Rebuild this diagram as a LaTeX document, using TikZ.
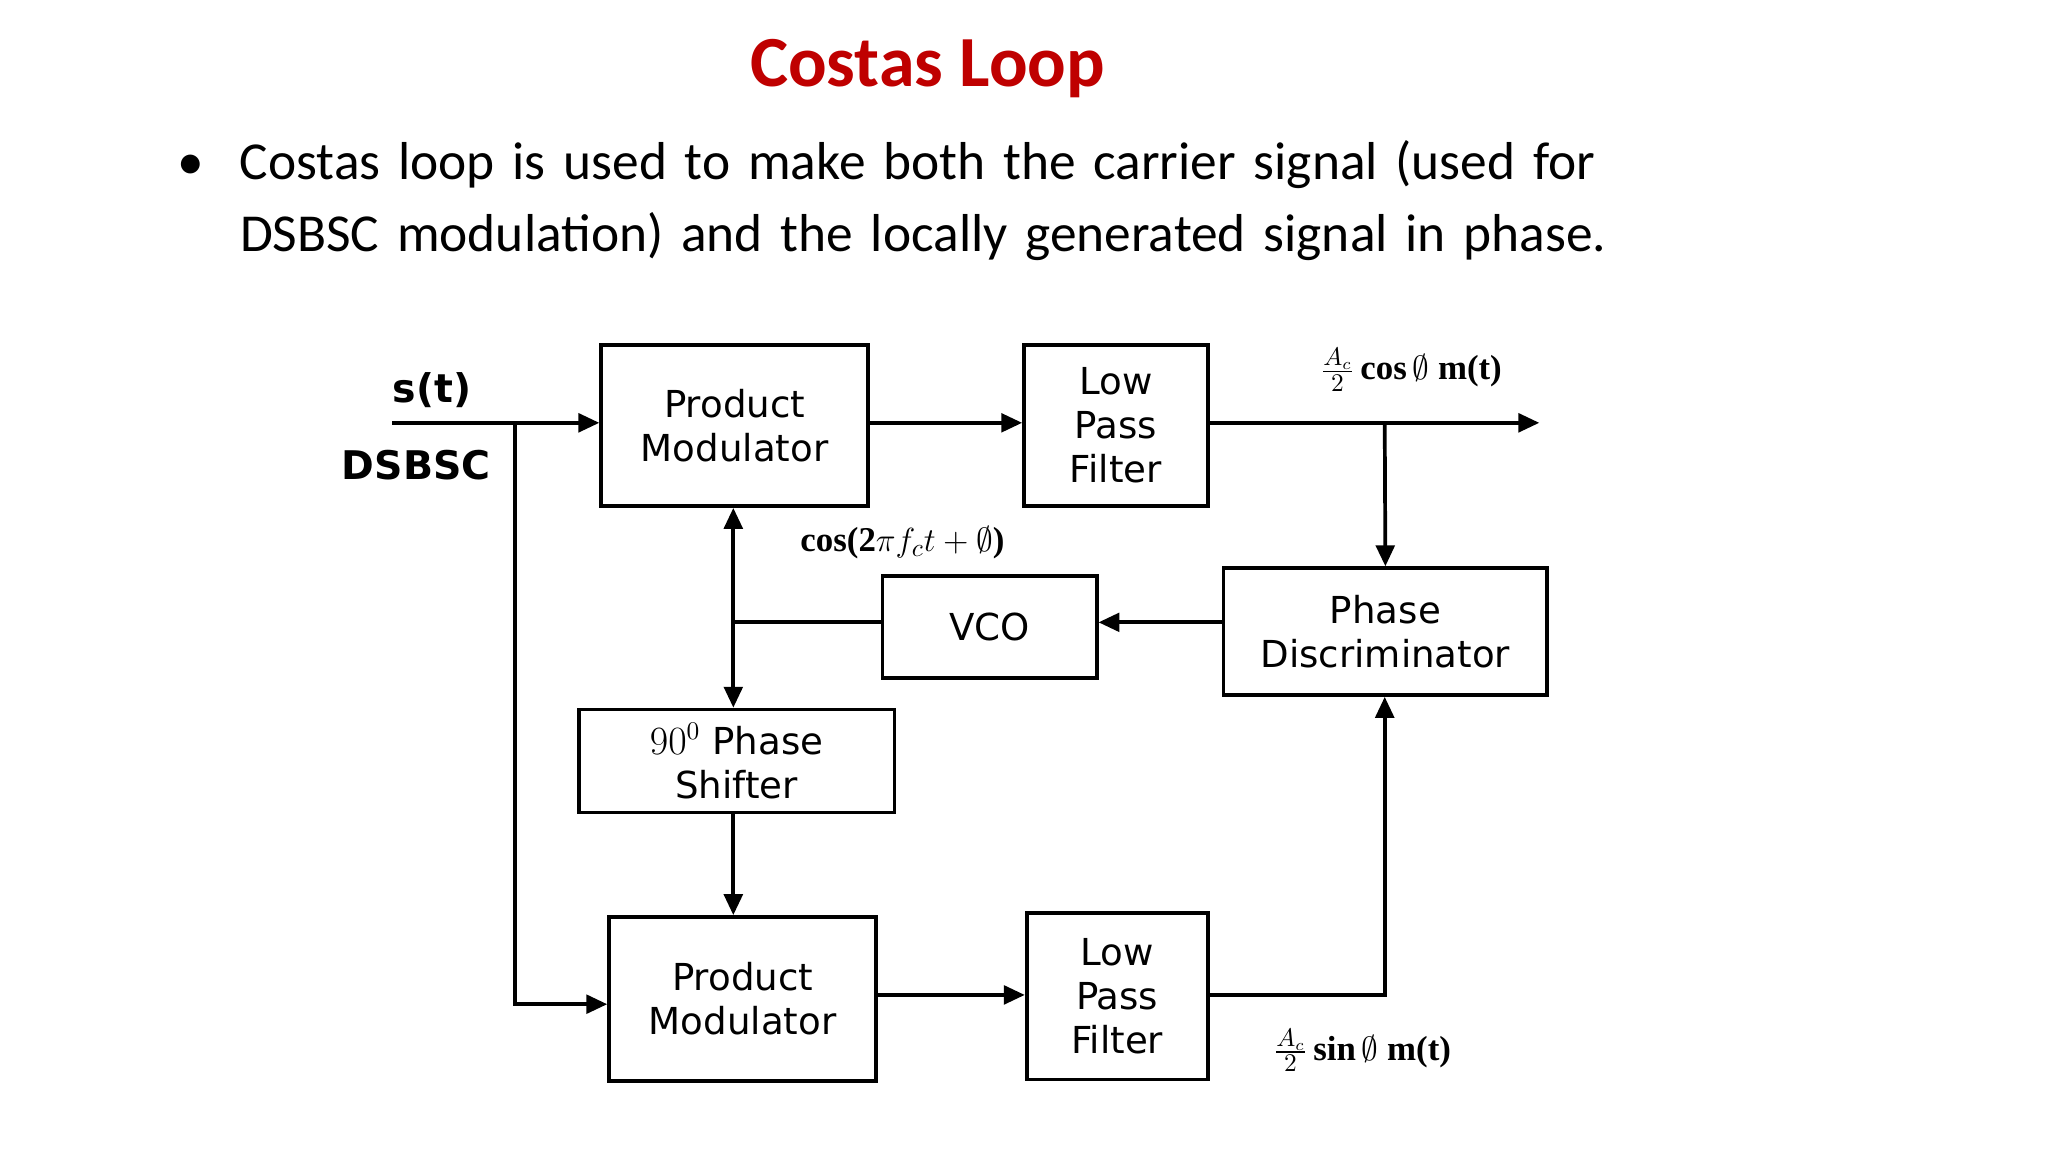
\documentclass[tikz,border=0pt]{standalone}
\usepackage{amsmath}
\usepackage{fontspec}
\setmainfont{Carlito}
\newfontfamily\boxf{DejaVu Sans}
\newfontfamily\serf{Liberation Serif}
\usetikzlibrary{arrows.meta}
\newcommand{\coslab}{cos(2$\pi f_c t+\emptyset$)}
\newcommand{\toplab}{$\frac{A_c}{2}$\,cos\,$\emptyset$ m(t)}
\newcommand{\botlab}{$\frac{A_c}{2}$\,sin\,$\emptyset$ m(t)}
\begin{document}
\begin{tikzpicture}[x=0.02cm,y=-0.02cm,
 blk/.style={draw,line width=1.6pt,inner sep=0pt,font=\boxf\fontsize{16}{19}\selectfont,align=center},
 ln/.style={line width=1.6pt},
 ar/.style={ln,-{Triangle[length=9pt,width=8pt]}},
 lab/.style={font=\serf\bfseries\fontsize{15}{18}\selectfont}]
\useasboundingbox (0,0) rectangle (1550,872);
\node[text=red!75!black,font=\bfseries\fontsize{31}{36}\selectfont] (title) at (702,52) {Costas Loop};
\node[anchor=west,font=\fontsize{23}{31}\selectfont,align=left,text width=1200*0.02cm] (txt) at (128,152) {\makebox[30pt][l]{\textbullet}\hspace{-3pt}Costas loop is used to make both the carrier signal (used for\\\hspace{27pt}DSBSC modulation) and the locally generated signal in phase.};
\node[blk,minimum width=202*0.02cm,minimum height=122*0.02cm] (pm1) at (556,322) {Product\\Modulator};
\node[blk,minimum width=139*0.02cm,minimum height=122*0.02cm] (lp1) at (844.5,322) {Low\\Pass\\Filter};
\node[blk,minimum width=245*0.02cm,minimum height=96*0.02cm] (pd) at (1048.5,478) {Phase\\Discriminator};
\node[blk,minimum width=162*0.02cm,minimum height=77*0.02cm] (vco) at (749,474.5) {VCO};
\node[blk,minimum width=239*0.02cm,minimum height=78*0.02cm] (ps) at (557.5,576) {$90^0$ Phase\\Shifter};
\node[blk,minimum width=202*0.02cm,minimum height=124*0.02cm] (pm2) at (562,756) {Product\\Modulator};
\node[blk,minimum width=137*0.02cm,minimum height=126*0.02cm] (lp2) at (845.5,754) {Low\\Pass\\Filter};
\coordinate (in) at (297,320);
\coordinate (br) at (390,320);
\coordinate (out) at (1165,320);
\coordinate (tap) at (1048,320);
\coordinate (vj) at (555,471);
\coordinate (y2) at (0,760);
\coordinate (y3) at (0,753);
\node[font=\boxf\bfseries\fontsize{17}{20}\selectfont] (st) at (327,295) {s(t)};
\node[font=\boxf\bfseries\fontsize{17}{20}\selectfont] (ds) at (315,352) {DSBSC};
\node[lab] (cl) at (683,411) {\coslab};
\node[lab] (tl) at (1068,280) {\toplab};
\node[lab] (bl) at (1031,795) {\botlab};
\draw[ar] (in) -- (pm1.west|-in);
\draw[ar] (br) |- (pm2.west|-y2);
\draw[ar] (pm1.east|-in) -- (lp1.west|-in);
\draw[ar] (lp1.east|-in) -- (out);
\draw[ar] (tap) -- (pd.north);
\draw[ar] (pd.west|-vj) -- (vco.east|-vj);
\draw[ln] (vco.west|-vj) -- (vj);
\draw[ar] (vj) -- (pm1.south-|vj);
\draw[ar] (vj) -- (ps.north-|vj);
\draw[ar] (ps.south-|vj) -- (pm2.north-|vj);
\draw[ar] (pm2.east|-y3) -- (lp2.west|-y3);
\draw[ar] (lp2.east|-y3) -| (pd.south-|tap);
\end{tikzpicture}
\end{document}
